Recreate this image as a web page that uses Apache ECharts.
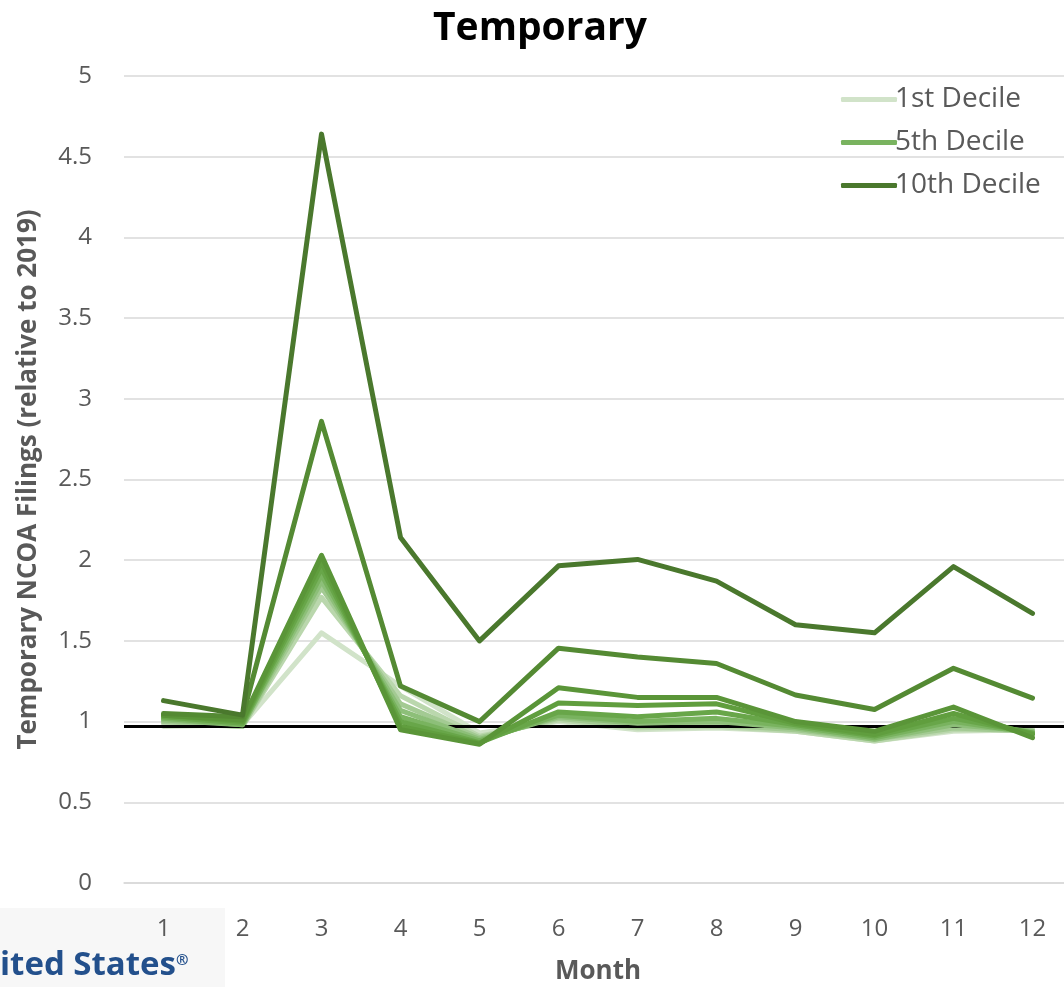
<!DOCTYPE html>
<html>
<head>
<meta charset="utf-8">
<script src="https://cdn.jsdelivr.net/npm/echarts@6/dist/echarts.min.js"></script>
<style>
  html, body { margin: 0; padding: 0; background: #ffffff; }
  #chart { width: 1064px; height: 987px; }
</style>
</head>
<body>
<div id="chart"></div>
<script>
// Months on the category axis
const months = ['1', '2', '3', '4', '5', '6', '7', '8', '9', '10', '11', '12'];

// Temporary NCOA filings relative to 2019, one line per decile
const decile1  = [0.97, 0.98, 1.55, 1.22, 0.93, 1.00, 0.95, 0.96, 0.94, 0.88, 0.94, 0.95];
const decile2  = [0.99, 0.97, 1.77, 1.16, 0.91, 1.01, 0.96, 0.97, 0.94, 0.88, 0.95, 0.95];
const decile3  = [1.00, 0.97, 1.83, 1.11, 0.90, 1.02, 0.97, 0.98, 0.95, 0.89, 0.96, 0.94];
const decile4  = [1.01, 0.98, 1.87, 1.07, 0.89, 1.03, 0.99, 1.00, 0.96, 0.89, 0.98, 0.94];
const decile5  = [1.02, 0.98, 1.91, 1.03, 0.88, 1.04, 1.00, 1.02, 0.97, 0.90, 1.00, 0.93];
const decile6  = [1.03, 0.99, 1.95, 1.00, 0.87, 1.06, 1.03, 1.06, 0.98, 0.91, 1.02, 0.93];
const decile7  = [1.04, 1.00, 1.99, 0.97, 0.865, 1.115, 1.10, 1.11, 0.99, 0.92, 1.05, 0.92];
const decile8  = [1.04, 1.01, 2.03, 0.95, 0.86, 1.21, 1.15, 1.15, 1.00, 0.94, 1.09, 0.90];
const decile9  = [1.05, 1.03, 2.86, 1.22, 1.00, 1.455, 1.40, 1.36, 1.165, 1.075, 1.33, 1.145];
const decile10 = [1.13, 1.04, 4.64, 2.14, 1.50, 1.965, 2.005, 1.87, 1.60, 1.55, 1.96, 1.67];

const decileNames = ['1st Decile', '2nd Decile', '3rd Decile', '4th Decile', '5th Decile',
                     '6th Decile', '7th Decile', '8th Decile', '9th Decile', '10th Decile'];
const decileValues = [decile1, decile2, decile3, decile4, decile5,
                      decile6, decile7, decile8, decile9, decile10];
const legendNames = ['1st Decile', '5th Decile', '10th Decile'];

// Reference level drawn as a black rule
const baseline = 0.975;

// Light-to-dark green ramp, one shade per decile
const greens = ['#d1e3c9', '#bad7ad', '#a3ca93', '#8dbf79', '#79b35f',
                '#68a649', '#609e3e', '#5a9538', '#548a33', '#4a782d'];

const FONT = '"Open Sans", "Noto Sans", sans-serif';
const GREY = '#595959';

const series = decileNames.map((name, i) => ({
  name: name,
  type: 'line',
  data: decileValues[i],
  symbol: 'none',
  smooth: false,
  z: 2 + i,
  lineStyle: { color: greens[i], width: 5, cap: 'round', join: 'round' },
  itemStyle: { color: greens[i] },
  emphasis: { disabled: true }
}));

series.push({
  name: 'baseline',
  type: 'line',
  data: [],
  z: 20,
  markLine: {
    silent: true,
    symbol: ['none', 'none'],
    label: { show: false },
    lineStyle: { color: '#000000', width: 3, type: 'solid' },
    data: [{ yAxis: baseline }]
  }
});

const chart = echarts.init(document.getElementById('chart'), null, { renderer: 'canvas' });

chart.setOption({
  animation: false,
  backgroundColor: '#ffffff',
  title: {
    text: 'Temporary',
    left: 428,
    top: 4,
    textStyle: { fontFamily: FONT, fontSize: 39, fontWeight: 'bold', color: '#000000' }
  },
  legend: {
    data: legendNames,
    orient: 'vertical',
    left: 836,
    top: 79,
    itemWidth: 56,
    itemHeight: 5,
    itemGap: 12,
    icon: 'roundRect',
    textStyle: { fontFamily: FONT, fontSize: 28, lineHeight: 31, color: GREY, padding: [0, 0, 0, -7] }
  },
  grid: {
    left: 124,
    top: 76,
    width: 948,
    height: 807,
    outerBoundsMode: 'none',
    containLabel: false
  },
  xAxis: {
    type: 'category',
    data: months,
    boundaryGap: true,
    name: 'Month',
    nameLocation: 'middle',
    nameGap: 76,
    nameTextStyle: { fontFamily: FONT, fontSize: 26, fontWeight: 'bold', color: GREY },
    axisLine: { show: true, lineStyle: { color: '#d9d9d9', width: 1.5 } },
    axisTick: { show: false },
    axisLabel: { fontFamily: FONT, fontSize: 24, color: GREY, margin: 34 },
    splitLine: { show: false }
  },
  yAxis: {
    type: 'value',
    min: 0,
    max: 5,
    interval: 0.5,
    name: 'Temporary NCOA Filings (relative to 2019)',
    nameLocation: 'middle',
    nameGap: 82,
    nameTextStyle: { fontFamily: FONT, fontSize: 26, fontWeight: 'bold', color: GREY },
    axisLine: { show: false },
    axisTick: { show: false },
    axisLabel: { fontFamily: FONT, fontSize: 24, color: GREY, margin: 32 },
    splitLine: { show: true, lineStyle: { color: '#d9d9d9', width: 1.5 } }
  },
  graphic: [
    {
      type: 'rect',
      left: 0,
      top: 908,
      shape: { width: 225, height: 79 },
      style: { fill: '#f7f7f7' },
      z: -1
    },
    {
      type: 'text',
      left: 0,
      top: 949,
      style: {
        text: 'ited States',
        fontFamily: FONT,
        fontSize: 33,
        fontWeight: 'bold',
        fill: '#23508c'
      }
    },
    {
      type: 'text',
      left: 176,
      top: 953,
      style: {
        text: '®',
        fontFamily: FONT,
        fontSize: 15,
        fontWeight: 'bold',
        fill: '#23508c'
      }
    }
  ],
  series: series
});
</script>
</body>
</html>
